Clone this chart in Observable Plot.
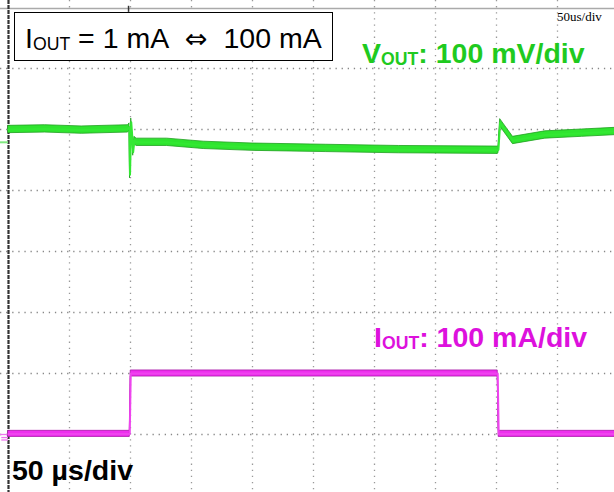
<!DOCTYPE html>
<html><head><meta charset="utf-8">
<script src="https://cdn.jsdelivr.net/npm/d3@7"></script>
<script src="https://cdn.jsdelivr.net/npm/@observablehq/plot@0.6"></script>
<style>
body{margin:0;background:#fff;}
#wrap{position:relative;width:614px;height:492px;overflow:hidden;font-family:"Liberation Sans",Arial,sans-serif;}
#wrap svg{position:absolute;left:0;top:0;overflow:hidden;}
.lbl{position:absolute;white-space:nowrap;line-height:1;}
.sub{font-size:0.62em;position:relative;top:0.12em;}
.arr{font-family:"DejaVu Sans",sans-serif;font-size:27px;}
#box{position:absolute;left:14px;top:12px;width:317px;height:47px;border:1.5px solid #000;background:#fff;}
</style></head><body><div id="wrap"></div>
<script>
// ---- data (time in µs, VOUT deviation in mV, IOUT in mA) ----
const voutTime = [0, 30, 60, 98, 99.2, 99.6, 100.6, 101.4, 102.2, 103.2, 105, 130, 160, 200, 260, 320, 401, 401.6, 403, 413.5, 440, 470, 500];
const voutMv   = [0, 1, -1, 1, 4, -74, 12, -10, -37, -18, -21, -21, -26, -29, -31, -33, -34, -33, 11, -18, -9, -6, -3];
const ioutTime = [0, 99.4, 100.2, 401, 401.8, 500];
const ioutMa   = [1, 1, 100, 100, 1, 1];

const gridTimes = [50, 100, 150, 200, 250, 300, 350, 400, 450];
const gridDivs  = [-3, -2, -1, 0, 1, 2, 3];

// scope settings
const mvPerDiv = 100, maPerDiv = 100;
const voutPos = 2, ioutPos = -3;       // trace offsets in divisions
const voutMarker = 1.79;               // channel marker levels (div)
const ioutMarkers = [-3.0, -3.05, -3.09];

const green = voutTime.map((t, i) => ({t, y: voutPos + voutMv[i] / mvPerDiv}));
const mag = ioutTime.map((t, i) => ({t, y: ioutPos + ioutMa[i] / maPerDiv}));

const hg = 0.06, hm = 0.05;

const plot = Plot.plot({
  width: 614, height: 492,
  marginLeft: 0, marginRight: 0, marginTop: 0, marginBottom: 0,
  x: {domain: [0, 500], range: [8, 618], axis: null},
  y: {domain: [-4, 4], range: [495, 7], axis: null},
  marks: [
    Plot.ruleX(gridTimes, {x: d => d, stroke: "#999", strokeWidth: 1.3, strokeDasharray: "1.3,4.8"}),
    Plot.ruleY(gridDivs, {y: d => d, stroke: "#888", strokeWidth: 1.3, strokeDasharray: "1.3,4.8"}),
    Plot.ruleY([4], {y: d => d - 0.015, stroke: "#aaa", strokeWidth: 1.5}),
    Plot.ruleX([0], {x: d => d, stroke: "#333", strokeWidth: 2.2, strokeDasharray: "4,1"}),
    Plot.ruleX([98.4], {x: d => d, y1: 3.92, y2: 4.02, stroke: "#333", strokeWidth: 1.5}),
    Plot.ruleY([voutMarker], {y: d => d, x1: -6.6, x2: 0, stroke: "#80e880", strokeWidth: 2}),
    Plot.ruleY(ioutMarkers, {y: d => d, x1: (d, i) => i === 0 ? -6.6 : -5.5, x2: 0, stroke: "#ee77ee", strokeWidth: 1.3}),
    // IOUT trace
    Plot.areaY(mag, {x: "t", y1: d => d.y - hm, y2: d => d.y + hm, fill: "#ee2eee", stroke: "#a818a8", strokeWidth: 0.8, curve: "linear"}),
    Plot.line(mag, {x: "t", y: "y", stroke: "#ee44ee", strokeWidth: 2}),
    // VOUT trace
    Plot.areaY(green, {x: "t", y1: d => d.y - hg, y2: d => d.y + hg, fill: "#2fe42f", stroke: "#1f9f1f", strokeWidth: 0.8, curve: "linear"}),
    Plot.line(green, {x: "t", y: "y", stroke: "#33e833", strokeWidth: 2})
  ]
});
const wrap = document.getElementById("wrap");
wrap.appendChild(plot);

wrap.insertAdjacentHTML("beforeend", `
<div id="box"></div>
<div class="lbl" style="left:25px;top:24px;font-size:28.5px;color:#000;">I<span class="sub">OUT</span> = 1 mA&nbsp; <span class="arr">⇔</span>&nbsp; 100 mA</div>
<div class="lbl" style="left:362px;top:39px;font-size:28.5px;font-weight:bold;color:#1fca1f;">V<span class="sub">OUT</span>: 100 mV/div</div>
<div class="lbl" style="left:374px;top:323px;font-size:28.5px;font-weight:bold;color:#dd11dd;">I<span class="sub">OUT</span>: 100 mA/div</div>
<div class="lbl" style="left:12px;top:456px;font-size:28.5px;font-weight:bold;color:#000;">50 µs/div</div>
<div class="lbl" style="left:557px;top:10px;font-size:13px;font-family:'Liberation Serif',serif;color:#000;">50us/div</div>
`);
</script></body></html>
